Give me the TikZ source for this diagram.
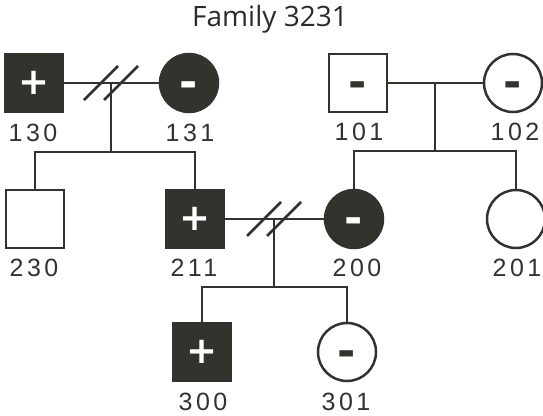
\documentclass[tikz,border=0pt]{standalone}
\usepackage{fontspec}
\setmainfont{Liberation Sans}
\newfontfamily\titlefont{Open Sans}
\newfontfamily\idfont[LetterSpace=14]{Liberation Sans}
\newfontfamily\signfont{DejaVu Sans}
\definecolor{ink}{RGB}{51,51,46}

\begin{document}
\begin{tikzpicture}[x=1pt,y=-1pt,
  person/.style={draw=ink, line width=2.5pt, minimum size=58pt, inner sep=0pt, text=ink},
  male/.style={person, rectangle},
  female/.style={person, circle},
  affected/.style={fill=ink, text=white},
  plussign/.style={font=\signfont\bfseries\fontsize{37}{37}\selectfont},
  minussign/.style={font=\signfont\bfseries\fontsize{44}{44}\selectfont,
    text height=29pt, text depth=0pt},
  idlabel/.style={anchor=base, inner sep=0pt, text=ink,
    font=\idfont\fontsize{25}{25}\selectfont},
  link/.style={draw=ink, line width=2.8pt}]
\useasboundingbox (0,0) rectangle (543,415);

% title
\node[anchor=base, inner sep=0pt, text=ink!85!black,
  font=\titlefont\fontsize{28}{28}\selectfont] (title) at (270,27) {Family 3231};

% generation I
\node[male,affected,plussign] (p130) at (34,83) {+};
\node[female,affected,minussign] (p131) at (189,83) {-};
\node[male,minussign] (p101) at (358,83) {-};
\node[female,minussign] (p102) at (513,83) {-};

% generation II
\node[male] (p230) at (35,219) {};
\node[male,affected,plussign] (p211) at (195,219) {+};
\node[female,affected,minussign] (p200) at (354,219) {-};
\node[female] (p201) at (516,219) {};

% generation III
\node[male,affected,plussign] (p300) at (202,352) {+};
\node[female,minussign] (p301) at (347,352) {-};

% identifiers
\node[idlabel] (l130) at (33,141) {130};
\node[idlabel] (l131) at (190,141) {131};
\node[idlabel] (l101) at (359,140) {101};
\node[idlabel] (l102) at (515,140) {102};
\node[idlabel] (l230) at (34,276) {230};
\node[idlabel] (l211) at (194,276) {211};
\node[idlabel] (l200) at (357,276) {200};
\node[idlabel] (l201) at (517,276) {201};
\node[idlabel] (l300) at (203,410) {300};
\node[idlabel] (l301) at (346,410) {301};

% couple midpoints and sibship bars
\coordinate (m1) at (111,83);
\coordinate (s1) at (111,152);
\coordinate (m2) at (435,83);
\coordinate (s2) at (435,151);
\coordinate (m3) at (274,219);
\coordinate (s3) at (274,287);

% matings
\draw[link] (p130) -- (p131);
\draw[link] (p101) -- (p102);
\draw[link] (p211) -- (p200);

% separation marks
\foreach \m in {m1,m3}{
  \draw[link] ([shift={(-27,17)}]\m) -- ([shift={(7,-17)}]\m);
  \draw[link] ([shift={(-7,17)}]\m) -- ([shift={(27,-17)}]\m);
}

% descent lines
\draw[link] (m1) -- (s1);
\draw[link] (p230.north) |- (s1) -| (p211.north);
\draw[link] (m2) -- (s2);
\draw[link] (p200.north) |- (s2) -| (p201.north);
\draw[link] (m3) -- (s3);
\draw[link] (p300.north) |- (s3) -| (p301.north);
\end{tikzpicture}
\end{document}
